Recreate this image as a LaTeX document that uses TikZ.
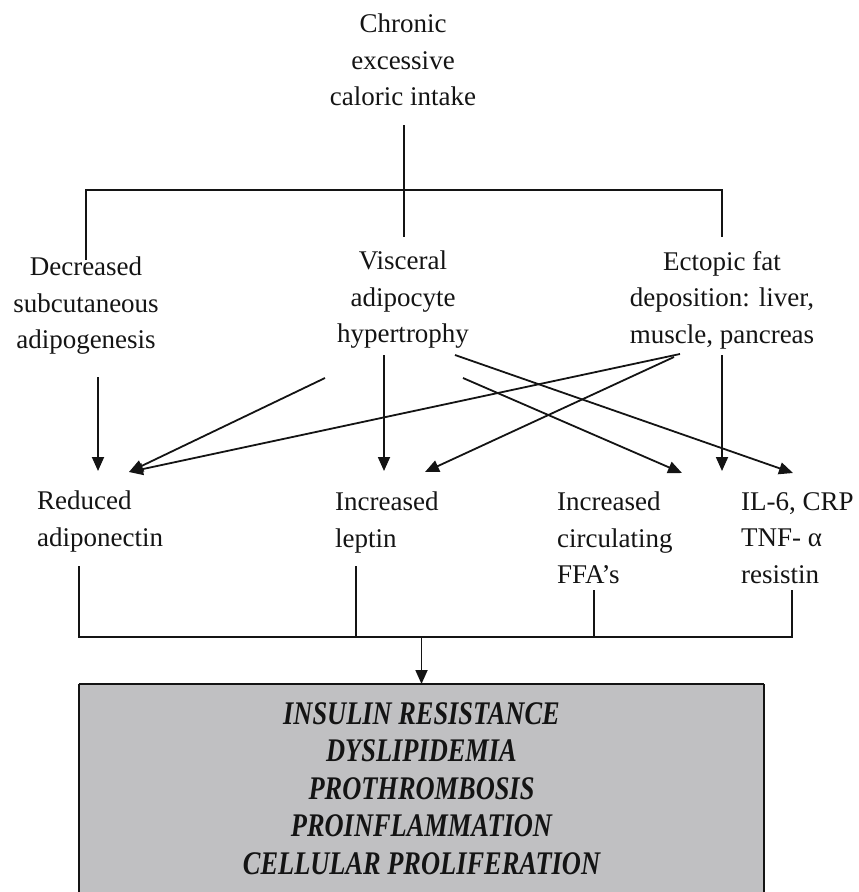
\documentclass[tikz,border=0pt]{standalone}
\usepackage{fontspec}
\setmainfont{Liberation Serif}
\newfontfamily\outcomefont[FakeStretch=0.8]{Liberation Serif}
\usetikzlibrary{arrows.meta}
\definecolor{box-gray}{RGB}{192, 192, 194}
\definecolor{ink}{RGB}{20, 20, 20}
\tikzset{
    factor/.style={align=center, inner sep=0pt, anchor=north, text=ink, font={\fontsize{27}{36.5}\selectfont}},
    marker/.style={factor, align=left, anchor=north west},
    link/.style={draw=ink, line width=1.8pt},
    arrowlink/.style={link, -{Triangle[length=14pt, width=12pt]}}
}

\begin{document}
\begin{tikzpicture}[x=1pt, y=-1pt]
    \useasboundingbox (0, 0) rectangle (859, 892);
    \node[factor] (intake) at (403, 14) {Chronic\\excessive\\caloric intake};
    \node[factor] (subq) at (86, 257) {Decreased\\subcutaneous\\adipogenesis};
    \node[factor] (visceral) at (403, 251) {Visceral\\adipocyte\\hypertrophy};
    \node[factor] (ectopic) at (722, 251) {Ectopic fat\\deposition: liver,\\muscle, pancreas};
    \node[marker] (adiponectin) at (37, 491) {Reduced\\adiponectin};
    \node[marker] (leptin) at (335, 492) {Increased\\leptin};
    \node[marker] (ffa) at (557, 492) {Increased\\circulating\\FFA’s};
    \node[marker] (cytokines) at (741, 492) {IL-6, CRP\\TNF- α\\resistin};
    \node[fill=box-gray, inner sep=0pt, anchor=north, minimum width=685, minimum height=208] (syndrome) at (421.5, 684) {};
    \node[factor, font={\outcomefont\bfseries\itshape\fontsize{33}{37.5}\selectfont}] (effects) at (421.5, 702) {INSULIN RESISTANCE\\DYSLIPIDEMIA\\PROTHROMBOSIS\\PROINFLAMMATION\\CELLULAR PROLIFERATION};
    \draw[draw=ink, line width=1.6pt] (syndrome.south west) -- (syndrome.north west);
    \draw[draw=ink, line width=1.6pt] (syndrome.south east) -- (syndrome.north east);
    \draw[draw=ink, line width=2.6pt] (syndrome.north west) -- (syndrome.north east);
    \coordinate (trunk) at (404, 125);
    \coordinate (split) at (404, 190);
    \coordinate (visceral in) at (404, 237);
    \coordinate (subq in) at (86, 260);
    \coordinate (ectopic in) at (722, 237);
    \coordinate (subq out) at (98, 377);
    \coordinate (visceral out) at (384, 355);
    \coordinate (visceral out left) at (325, 378);
    \coordinate (visceral out right) at (455, 355);
    \coordinate (visceral out mid) at (463, 378);
    \coordinate (ectopic out) at (722, 355);
    \coordinate (ectopic out left) at (680, 354);
    \coordinate (ectopic out mid) at (674, 357);
    \coordinate (adiponectin in) at (98, 471);
    \coordinate (adiponectin in right) at (129, 472);
    \coordinate (leptin in) at (384, 471);
    \coordinate (leptin in right) at (425, 472);
    \coordinate (ffa in) at (682, 473);
    \coordinate (ectopic tip) at (722, 471);
    \coordinate (cytokines in) at (793, 473);
    \coordinate (adiponectin out) at (79, 566);
    \coordinate (leptin out) at (356, 566);
    \coordinate (ffa out) at (594, 590);
    \coordinate (cytokines out) at (792, 590);
    \coordinate (merge) at (421.5, 637);
    \draw[link] (trunk) -- (visceral in);
    \draw[link] (subq in) -- (subq in |- split) -- (ectopic in |- split) -- (ectopic in);
    \draw[arrowlink] (subq out) -- (adiponectin in);
    \draw[arrowlink] (visceral out left) -- (adiponectin in right);
    \draw[arrowlink] (ectopic out left) -- (adiponectin in right);
    \draw[arrowlink] (visceral out) -- (leptin in);
    \draw[arrowlink] (ectopic out mid) -- (leptin in right);
    \draw[arrowlink] (visceral out mid) -- (ffa in);
    \draw[arrowlink] (visceral out right) -- (cytokines in);
    \draw[arrowlink] (ectopic out) -- (ectopic tip);
    \draw[link, line width=2.4pt] (adiponectin out) |- (merge) -| (cytokines out);
    \draw[link] (leptin out) -- (leptin out |- merge);
    \draw[link] (ffa out) -- (ffa out |- merge);
    \draw[arrowlink] (merge) -- (syndrome.north);
\end{tikzpicture}
\end{document}
